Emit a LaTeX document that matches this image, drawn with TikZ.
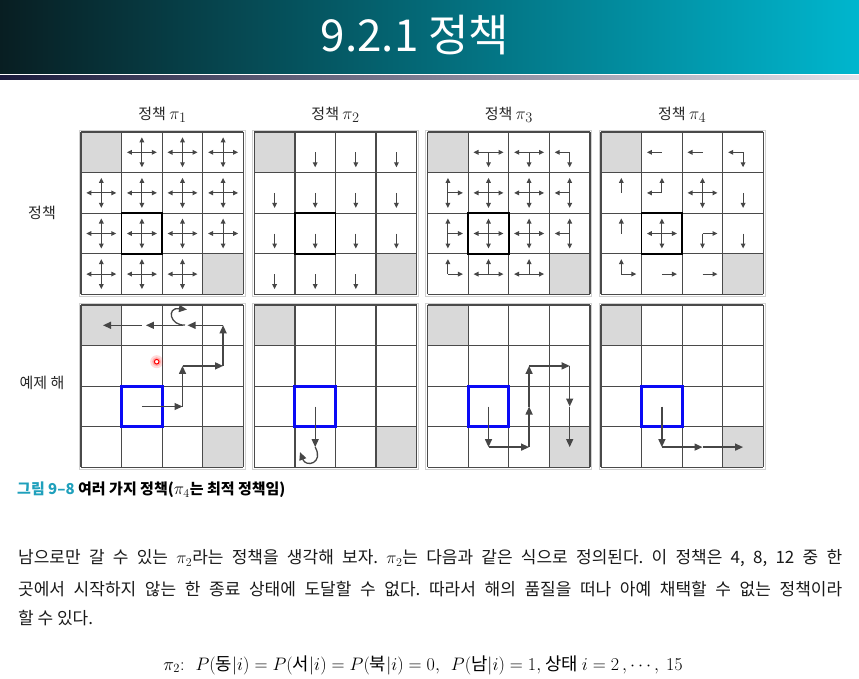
\documentclass[tikz,border=0pt]{standalone}
\usepackage{fontspec}
\setmainfont{Noto Sans CJK KR}
\usetikzlibrary{arrows.meta}
\definecolor{arrowgray}{HTML}{464646}
\definecolor{gridcol}{HTML}{4A4A4A}
\definecolor{cellgray}{HTML}{D9D9D9}
\definecolor{pathblue}{HTML}{0A0AF5}
\definecolor{capteal}{HTML}{1FA0BC}
\definecolor{tdark}{HTML}{081E22}
\definecolor{tmid}{HTML}{006A7A}
\definecolor{tlight}{HTML}{00B6CE}
\definecolor{banddark}{HTML}{1A1A3C}
\definecolor{bandlight}{HTML}{E4E4EC}
\tikzset{
  gridline/.style={draw=gridcol, line width=1.35pt},
  lightframe/.style={draw=black!18, line width=1pt},
  parrow/.style={draw=arrowgray, line width=1.1pt, -{Triangle[length=5pt,width=4.6pt]}},
  patharrow/.style={draw=arrowgray, line width=1.3pt, -{Triangle[length=8pt,width=7pt]}},
  lbl/.style={font=\fontsize{15}{18}\selectfont, text=black!85, inner sep=0pt},
}
\newcommand\drawgrid[2]{%
  \fill[cellgray] (#1,#2) rectangle ++(40.6,40.6);
  \fill[cellgray] ({#1+121.8},{#2+121.8}) rectangle ++(40.6,40.6);
  \draw[lightframe] ({#1-1.8},{#2-1.8}) rectangle ({#1+164.2},{#2+164.2});
  \foreach \k in {0,...,4}{%
    \draw[gridline] ({#1+\k*40.6},#2) -- ++(0,162.4);
    \draw[gridline] (#1,{#2+\k*40.6}) -- ++(162.4,0);
  }}
\newcommand\carr[4]{%
  \foreach \a in {#4}{\draw[parrow] ({#1+(#3+0.5)*40.6},{132+(#2+0.5)*40.6}) -- ++(\a:15);}}
\newcommand\bigpi[1]{{\fontsize{19}{20}\selectfont$\pi_{#1}$}}
\begin{document}
\frenchspacing
\begin{tikzpicture}[x=1pt,y=-1pt]
\useasboundingbox (0,0) rectangle (859,678);
\fill[white] (0,0) rectangle (859,678);
% title bar
\shade[left color=tdark, middle color=tmid, right color=tlight] (0,0) rectangle (859,73);
\shade[left color=banddark, right color=bandlight] (0,75.5) rectangle (859,79.5);
\node[font=\fontsize{44}{50}\selectfont, text=white] (title) at (415,35) {9.2.1 정책};

% column labels
\node[lbl] (c1) at (162.5,115) {정책 \bigpi{1}};
\node[lbl] (c2) at (335.5,115) {정책 \bigpi{2}};
\node[lbl] (c3) at (508.8,115) {정책 \bigpi{3}};
\node[lbl] (c4) at (682.2,115) {정책 \bigpi{4}};
\node[lbl] (r1) at (42,213) {정책};
\node[lbl] (r2) at (42,383) {예제 해};

% top grids
\drawgrid{81}{132}
\drawgrid{254.3}{132}
\drawgrid{427.6}{132}
\drawgrid{601}{132}
\foreach \g in {81,254.3,427.6,601}{\draw[line width=1.7pt, black] ({\g+40.6},{132+81.2}) rectangle ++(40.6,40.6);}

% pi1
\foreach \r/\c in {0/1,0/2,0/3,1/0,1/1,1/2,1/3,2/0,2/1,2/2,2/3,3/0,3/1,3/2}{\carr{81}{\r}{\c}{0,90,180,270}}
% pi2
\foreach \r/\c in {0/1,0/2,0/3,1/0,1/1,1/2,1/3,2/0,2/1,2/2,2/3,3/0,3/1,3/2}{\carr{254.3}{\r}{\c}{90}}
% pi3
\carr{427.6}{0}{1}{0,180,90}
\carr{427.6}{0}{2}{0,180,90}
\carr{427.6}{0}{3}{180,90}
\carr{427.6}{1}{0}{270,90,0}
\carr{427.6}{1}{1}{0,90,180,270}
\carr{427.6}{1}{2}{0,90,180,270}
\carr{427.6}{1}{3}{270,90,180}
\carr{427.6}{2}{0}{270,90,0}
\carr{427.6}{2}{1}{0,90,180,270}
\carr{427.6}{2}{2}{0,90,180,270}
\carr{427.6}{2}{3}{270,90,180}
\carr{427.6}{3}{0}{270,0}
\carr{427.6}{3}{1}{270,180,0}
\carr{427.6}{3}{2}{270,180,0}
% pi4
\carr{601}{0}{1}{180}
\carr{601}{0}{2}{180}
\carr{601}{0}{3}{180,90}
\carr{601}{1}{0}{270}
\carr{601}{1}{1}{270,180}
\carr{601}{1}{2}{0,90,180,270}
\carr{601}{1}{3}{90}
\carr{601}{2}{0}{270}
\carr{601}{2}{1}{0,90,180,270}
\carr{601}{2}{2}{0,90}
\carr{601}{2}{3}{90}
\carr{601}{3}{0}{270,0}
\carr{601}{3}{1}{0}
\carr{601}{3}{2}{0}

% bottom grids
\drawgrid{81}{305}
\drawgrid{254.3}{305}
\drawgrid{427.6}{305}
\drawgrid{601}{305}
\foreach \g in {81,254.3,427.6,601}{\draw[line width=3pt, pathblue] ({\g+40.6},{305+81.2}) rectangle ++(40.6,40.6);}

% example 1
\coordinate (e1a) at (141.9,406.5);
\coordinate (e1b) at (182.5,406.5);
\coordinate (e1c) at (182.5,365.9);
\coordinate (e1d) at (223.1,365.9);
\coordinate (e1e) at (223.1,325.3);
\coordinate (e1f) at (182.5,325.3);
\coordinate (e1g) at (141.9,325.3);
\coordinate (e1h) at (103.0,325.3);
\draw[patharrow] (e1a) -- (e1b);
\draw[patharrow] (e1b) -- (e1c);
\draw[patharrow] (e1c) -- (e1d);
\draw[patharrow] (e1d) -- (e1e);
\draw[patharrow] (e1e) -- ([xshift=5pt]e1f);
\draw[patharrow] (e1f) -- ([xshift=4pt]e1g);
\draw[patharrow] (e1g) -- (e1h);
\coordinate (e1l1) at (185,325);
\coordinate (e1l2) at (187,309.5);
\draw[patharrow] (e1l1) .. controls (170,326) and (166,307) .. (e1l2);
% red marker
\fill[red, opacity=0.15] (156.7,361.7) circle (6.5);
\fill[red, opacity=0.2] (156.7,361.7) circle (4.5);
\draw[red, line width=1pt, fill=white] (156.7,361.7) circle (2.3);

% example 2
\coordinate (e2a) at (315.2,406.5);
\coordinate (e2b) at (315.2,447.1);
\coordinate (e2c) at (300,452);
\draw[patharrow] (e2a) -- (e2b);
\draw[patharrow] (e2b) .. controls (324,463) and (306,468) .. (e2c);

% example 3
\coordinate (e3a) at (488.5,406.5);
\coordinate (e3b) at (488.5,447.1);
\coordinate (e3c) at (529.1,447.1);
\coordinate (e3d) at (529.1,406.5);
\coordinate (e3e) at (529.1,365.9);
\coordinate (e3f) at (569.7,365.9);
\coordinate (e3g) at (569.7,406.5);
\coordinate (e3h) at (569.7,447.1);
\draw[patharrow] (e3a) -- (e3b);
\draw[patharrow] (e3b) -- (e3c);
\draw[patharrow] (e3c) -- (e3d);
\draw[patharrow] (e3d) -- (e3e);
\draw[patharrow] (e3e) -- (e3f);
\draw[patharrow] (e3f) -- (e3g);
\draw[patharrow] (e3g) -- (e3h);

% example 4
\coordinate (e4a) at (661.9,406.5);
\coordinate (e4b) at (661.9,447.1);
\coordinate (e4c) at (702.5,447.1);
\coordinate (e4d) at (743.1,447.1);
\draw[patharrow] (e4a) -- (e4b);
\draw[patharrow] (e4b) -- (e4c);
\draw[patharrow] (e4c) -- (e4d);

% caption
\node[anchor=west, inner sep=0pt, font=\fontsize{15}{18}\selectfont\bfseries] (cap) at (17,490)
  {\textcolor{capteal}{그림 9–8} 여러 가지 정책({\fontsize{18}{18}\selectfont$\pi_4$}는 최적 정책임)};

% paragraph
\node[anchor=west, inner sep=0pt, font=\fontsize{17}{20}\selectfont, text=black!90] (p1) at (18,558)
  {\hbox to 824pt{남으로만 갈 수 있는 $\pi_2$라는 정책을 생각해 보자. $\pi_2$는 다음과 같은 식으로 정의된다. 이 정책은 4, 8, 12 중 한}};
\node[anchor=west, inner sep=0pt, font=\fontsize{17}{20}\selectfont, text=black!90] (p2) at (18,589)
  {\hbox to 824pt{곳에서 시작하지 않는 한 종료 상태에 도달할 수 없다. 따라서 해의 품질을 떠나 아예 채택할 수 없는 정책이라}};
\node[anchor=west, inner sep=0pt, font=\fontsize{17}{20}\selectfont, text=black!90] (p3) at (18,618)
  {할 수 있다.};

% equation
\node[inner sep=0pt, font=\fontsize{17}{20}\selectfont] (eq) at (423,665)
  {\scalebox{1.045}{$\pi_2\colon\ \ P(\mbox{동}|i) = P(\mbox{서}|i) = P(\mbox{북}|i) = 0,\ \ P(\mbox{남}|i) = 1,$ 상태 $i = 2\,,\cdots,\ 15$}};
\end{tikzpicture}
\end{document}
